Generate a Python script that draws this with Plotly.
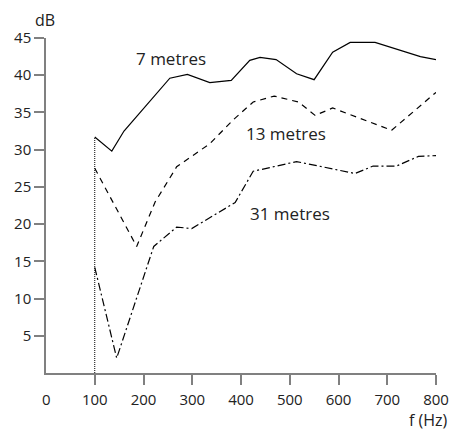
import plotly.graph_objects as go

# 7 metres (solid)
f7 = [100, 135, 160, 219, 254, 290, 336, 380, 418, 439, 472, 514, 550, 588, 624, 675, 768, 800]
db7 = [31.7, 29.8, 32.5, 36.9, 39.6, 40.1, 39.0, 39.3, 42.0, 42.4, 42.1, 40.2, 39.4, 43.1, 44.4, 44.4, 42.5, 42.1]

# 13 metres (dashed)
f13 = [100, 186, 224, 268, 336, 384, 425, 468, 518, 552, 588, 709, 800]
db13 = [27.5, 17.0, 23.0, 27.7, 30.8, 34.0, 36.4, 37.2, 36.4, 34.6, 35.6, 32.6, 37.7]

# 31 metres (dash-dot)
f31 = [100, 145, 221, 268, 299, 388, 425, 514, 634, 671, 719, 764, 800]
db31 = [14.2, 2.0, 17.0, 19.6, 19.4, 22.9, 27.1, 28.4, 26.8, 27.8, 27.8, 29.1, 29.2]

x_ticks = [100, 200, 300, 400, 500, 600, 700, 800]
y_ticks = [5, 10, 15, 20, 25, 30, 35, 40, 45]

labels = ["7 metres", "13 metres", "31 metres"]
label_x = [257, 492, 500]
label_y = [42.3, 32.2, 21.4]

FONT = "Open Sans"
AX = "#808080"
TXT = "#222222"

fig = go.Figure()
# dotted reference line at 100 Hz
fig.add_trace(go.Scatter(x=[f7[0], f7[0]], y=[0, db7[0]], mode="lines",
                         line=dict(color="black", width=1, dash="1px,1px"),
                         hoverinfo="skip", showlegend=False))
fig.add_trace(go.Scatter(x=f7, y=db7, mode="lines",
                         line=dict(color="black", width=1.2), showlegend=False))
fig.add_trace(go.Scatter(x=f13, y=db13, mode="lines",
                         line=dict(color="black", width=1.2, dash="6px,5px"), showlegend=False))
fig.add_trace(go.Scatter(x=f31, y=db31, mode="lines",
                         line=dict(color="black", width=1.2, dash="8px,3px,2px,3px"), showlegend=False))

for t, x, y in zip(labels, label_x, label_y):
    fig.add_annotation(x=x, y=y, text=t, showarrow=False,
                       font=dict(family=FONT, size=17, color=TXT))

fig.add_annotation(x=0, y=-0.078, xref="x", yref="paper", text="0", showarrow=False,
                   yanchor="middle",
                   font=dict(family=FONT, size=15, color=TXT))
fig.add_annotation(x=-0.003, y=1.054, xref="paper", yref="paper", text="dB", showarrow=False,
                   xanchor="center", yanchor="middle",
                   font=dict(family=FONT, size=16, color=TXT))
fig.add_annotation(x=1.036, y=-0.14, xref="paper", yref="paper", text="f (Hz)", showarrow=False,
                   xanchor="right", yanchor="middle",
                   font=dict(family=FONT, size=16, color=TXT))

# page body has an 8px margin; size figure so the plot area lands where the reference has it
fig.update_layout(
    width=451, height=430,
    margin=dict(l=38, r=23, t=30, b=65, autoexpand=False),
    plot_bgcolor="white", paper_bgcolor="white",
    font=dict(family=FONT, size=15, color=TXT),
)
fig.update_xaxes(range=[0, 800], tickvals=x_ticks, showline=True, linecolor=AX, linewidth=1.5,
                 ticks="outside", ticklen=10, tickcolor=AX, tickwidth=1.5,
                 showgrid=False, zeroline=False, ticklabelstandoff=2,
                 tickfont=dict(family=FONT, size=15, color=TXT))
fig.update_yaxes(range=[0, 45], tickvals=y_ticks, showline=True, linecolor=AX, linewidth=1.5,
                 ticks="outside", ticklen=10, tickcolor=AX, tickwidth=1.5,
                 showgrid=False, zeroline=False,
                 tickfont=dict(family=FONT, size=15, color=TXT))

fig.write_html("out.html")
